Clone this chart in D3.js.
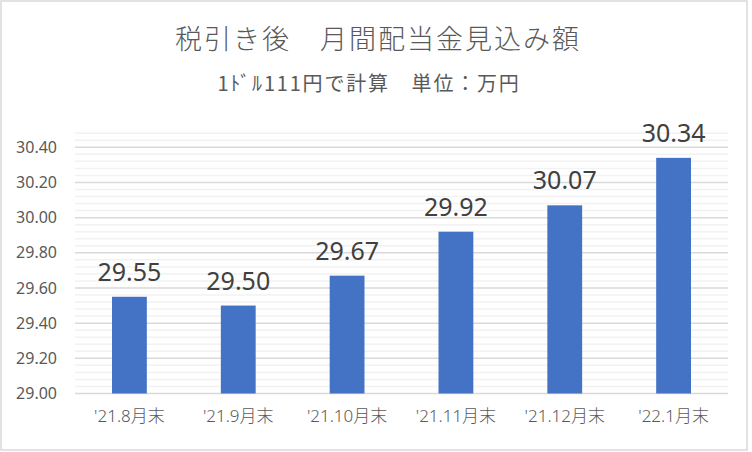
<!DOCTYPE html>
<html>
<head>
<meta charset="utf-8">
<script src="https://cdn.jsdelivr.net/npm/d3@7"></script>
<style>
  html, body { margin: 0; padding: 0; background: #fff; }
  svg { display: block; }
</style>
</head>
<body>
<script>
// Monthly dividend estimate after tax (unit: 10,000 yen)
const categories = ["'21.8月末", "'21.9月末", "'21.10月末", "'21.11月末", "'21.12月末", "'22.1月末"];
const values = [29.55, 29.50, 29.67, 29.92, 30.07, 30.34];
const yMajorTicks = [29.00, 29.20, 29.40, 29.60, 29.80, 30.00, 30.20, 30.40];
const yMinorTicks = [29.04, 29.08, 29.12, 29.16, 29.24, 29.28, 29.32, 29.36,
                     29.44, 29.48, 29.52, 29.56, 29.64, 29.68, 29.72, 29.76,
                     29.84, 29.88, 29.92, 29.96, 30.04, 30.08, 30.12, 30.16,
                     30.24, 30.28, 30.32, 30.36, 30.44, 30.48];
const titleText = "税引き後　月間配当金見込み額";
const subtitleText = "1ﾄﾞﾙ111円で計算　単位：万円";

const W = 752, H = 452;
const plot = { left: 75, right: 728, top: 129.7, bottom: 393.5 };

const svg = d3.select("body").append("svg")
  .attr("width", W).attr("height", H);

// chart frame
svg.append("rect")
  .attr("x", 1).attr("y", 1).attr("width", 746).attr("height", 449)
  .attr("fill", "#fff").attr("stroke", "#d9d9d9").attr("stroke-width", 1.5);

const x = d3.scaleBand().domain(categories)
  .range([plot.left, plot.right]).paddingInner(0.68).paddingOuter(0.34);
const y = d3.scaleLinear().domain([29.0, 30.5]).range([plot.bottom, plot.top]);

// minor gridlines
svg.append("g").selectAll("line").data(yMinorTicks).join("line")
  .attr("x1", plot.left).attr("x2", plot.right)
  .attr("y1", d => y(d)).attr("y2", d => y(d))
  .attr("stroke", "#f2f2f2").attr("stroke-width", 1.5);

// major gridlines
svg.append("g").selectAll("line").data(yMajorTicks).join("line")
  .attr("x1", plot.left).attr("x2", plot.right)
  .attr("y1", d => y(d)).attr("y2", d => y(d))
  .attr("stroke", "#d9d9d9").attr("stroke-width", 1.5);

// y axis labels
const yAxis = d3.axisLeft(y).tickValues(yMajorTicks).tickFormat(d3.format(".2f")).tickSize(0).tickPadding(18);
const gy = svg.append("g").attr("transform", `translate(${plot.left},0)`).call(yAxis);
gy.select(".domain").remove();
gy.selectAll("text")
  .attr("fill", "#595959")
  .style("font-family", "'Noto Sans', 'Open Sans', sans-serif")
  .style("font-size", "16px");

// bars
svg.append("g").selectAll("rect").data(values).join("rect")
  .attr("x", (d, i) => x(categories[i]))
  .attr("width", x.bandwidth())
  .attr("y", d => y(d))
  .attr("height", d => y(29.0) - y(d))
  .attr("fill", "#4472c4");

// value labels
svg.append("g").selectAll("text").data(values).join("text")
  .attr("x", (d, i) => x(categories[i]) + x.bandwidth() / 2)
  .attr("y", d => y(d) - 16)
  .attr("text-anchor", "middle")
  .attr("fill", "#404040")
  .style("font-family", "'Noto Sans', 'Open Sans', sans-serif")
  .style("font-size", "25px")
  .text(d => d.toFixed(2));

// x axis labels
const xAxis = d3.axisBottom(x).tickSize(0).tickPadding(16);
const gx = svg.append("g").attr("transform", `translate(0,${plot.bottom})`).call(xAxis);
gx.select(".domain").remove();
gx.selectAll("text")
  .attr("fill", "#595959")
  .style("font-family", "'Noto Sans', 'Noto Sans CJK JP', sans-serif")
  .style("font-weight", 300)
  .style("font-size", "17px");

// titles
svg.append("text")
  .attr("x", 378).attr("y", 49)
  .attr("text-anchor", "middle")
  .attr("fill", "#595959")
  .style("font-family", "'Noto Sans CJK JP', sans-serif")
  .style("font-weight", 300)
  .style("font-size", "27px")
  .style("letter-spacing", "2px")
  .text(titleText);

svg.append("text")
  .attr("x", 369).attr("y", 91)
  .attr("text-anchor", "middle")
  .attr("fill", "#595959")
  .style("font-family", "'Noto Sans CJK JP', sans-serif")
  .style("font-size", "20px")
  .style("letter-spacing", "1.8px")
  .text(subtitleText);
</script>
</body>
</html>
